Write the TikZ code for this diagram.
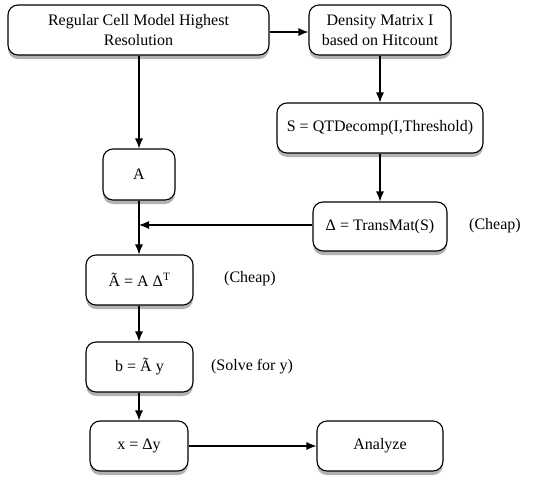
\documentclass[tikz,border=0pt]{standalone}
\usepackage{fontspec}
\setmainfont{Liberation Serif}
\usetikzlibrary{arrows.meta,shadows}
\begin{document}
\begin{tikzpicture}[x=1pt,y=-1pt,
  box/.style={draw=black, line width=1.1pt, fill=white, rounded corners=10pt,
    align=center, inner sep=0pt, font=\fontsize{16}{20}\selectfont,
    drop shadow={shadow xshift=0pt, shadow yshift=-4pt, opacity=0.3, fill=black}},
  lbl/.style={font=\fontsize{16}{20}\selectfont, inner sep=0pt},
  arr/.style={line width=1.1pt, -{Latex[length=10pt,width=8pt]}}]
\useasboundingbox (0,0) rectangle (536,480);
\node[box, minimum width=261pt, minimum height=50pt] (reg) at (138.5,30) {Regular Cell Model Highest\\Resolution};
\node[box, minimum width=142pt, minimum height=50pt] (dens) at (380,30) {Density Matrix I\\based on Hitcount};
\node[box, minimum width=206pt, minimum height=50pt] (qt) at (380,128) {S = QTDecomp(I,Threshold)};
\node[box, minimum width=72pt, minimum height=51pt] (A) at (139,174.5) {A};
\node[box, minimum width=134pt, minimum height=49pt] (delta) at (380,226.5) {Δ = TransMat(S)};
\node[box, minimum width=107pt, minimum height=50pt] (at) at (139.5,280) {Ã = A Δ\textsuperscript{T}};
\node[box, minimum width=107pt, minimum height=50pt] (b) at (139.5,367) {b = Ã y};
\node[box, minimum width=98pt, minimum height=50pt] (xx) at (139,446) {x = Δy};
\node[box, minimum width=126pt, minimum height=50pt] (an) at (380,446) {Analyze};
\node[lbl] (c1) at (495,226) {(Cheap)};
\node[lbl] (c2) at (250,279) {(Cheap)};
\node[lbl] (c3) at (252,367) {(Solve for y)};
\coordinate (j) at (139,225);
\draw[arr] (reg.east |- 0,32) -- (dens.west |- 0,32);
\draw[arr] (reg.south -| A.north) -- (A.north);
\draw[arr] (dens.south) -- (qt.north);
\draw[arr] (qt.south) -- (delta.north);
\draw[arr] (delta.west |- j) -- (j);
\draw[arr] (A.south) -- (A.south |- at.north);
\draw[arr] (at.south -| A.south) -- (b.north -| A.south);
\draw[arr] (b.south -| A.south) -- (xx.north -| A.south);
\draw[arr] (xx.east) -- (an.west);
\end{tikzpicture}
\end{document}
